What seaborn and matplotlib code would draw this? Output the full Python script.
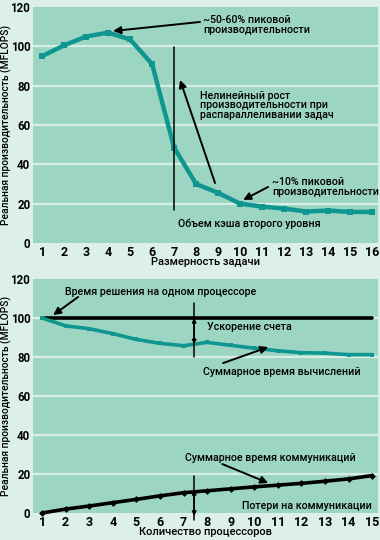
import matplotlib
matplotlib.use("Agg")
import matplotlib.pyplot as plt
import seaborn as sns
import pandas as pd

# data
task_size = list(range(1, 17))
perf_by_size = [95, 100.5, 105, 107, 103.5, 91, 48.5, 30, 25.5, 20, 18.5, 17.5, 16, 16.5, 15.8, 15.8]

n_procs = list(range(1, 16))
single_proc = [100] * 15
compute_time = [100, 96, 94.5, 92, 89, 87, 85.8, 87.5, 86, 84.5, 83.2, 82.2, 82, 81.2, 81.2]
comm_time = [0, 2, 3.6, 5.3, 7, 8.8, 10.4, 11.4, 12.4, 13.4, 14.3, 15.2, 16.3, 17.5, 19.2]

y_ticks = [0, 20, 40, 60, 80, 100, 120]

FIG_BG = "#dcf0e7"
AX_BG = "#9dd5c3"
GRID = "#d6eee4"
TEAL = "#0f9690"

sns.set_theme(style="white")
plt.rcParams["font.family"] = ["Roboto", "DejaVu Sans"]
plt.rcParams["font.size"] = 8
for key in ("text.color", "axes.labelcolor", "xtick.color", "ytick.color"):
    plt.rcParams[key] = "black"

fig = plt.figure(figsize=(3.8, 5.4), dpi=100, facecolor=FIG_BG)
ax1 = fig.add_axes([0.087, 0.55, 0.908, 0.437])
ax2 = fig.add_axes([0.087, 0.05, 0.908, 0.4333])


def style_axis(ax, xticks, xlim, xlabel):
    ax.set_facecolor(AX_BG)
    for s in ax.spines.values():
        s.set_visible(False)
    ax.set_ylim(0, 120)
    ax.set_xlim(*xlim)
    ax.set_yticks(y_ticks)
    ax.set_xticks(xticks)
    ax.set_yticklabels([str(t) for t in y_ticks], fontsize=8.3, fontweight="bold")
    ax.set_xticklabels([str(t) for t in xticks], fontsize=9, fontweight="bold")
    ax.tick_params(length=0, pad=2)
    for t in y_ticks[1:-1]:
        ax.axhline(t, color=GRID, lw=1.6, zorder=0.5)
    ax.set_xlabel(xlabel, fontsize=8, fontweight="medium", labelpad=-1)
    ax.set_ylabel("Реальная производительность (MFLOPS)", fontsize=7.4,
                  fontweight="medium")
    ax.yaxis.set_label_coords(-0.062, 0.5)


def note(ax, text, xy, xytext=None, ha="left"):
    if xytext is None:
        ax.text(xy[0], xy[1], text, fontsize=7.7, fontweight="medium",
                ha=ha, va="center", linespacing=0.95)
    else:
        ax.annotate("", xy=xy, xytext=xytext,
                    arrowprops=dict(arrowstyle="-|>", color="black", lw=1.4,
                                    mutation_scale=11, shrinkA=0, shrinkB=0))


# ---- top panel ----
top = pd.DataFrame({"size": task_size, "perf": perf_by_size})
sns.lineplot(data=top, x="size", y="perf", ax=ax1, color=TEAL, lw=3.2,
             marker="s", markersize=4, markeredgewidth=0, zorder=3)
style_axis(ax1, task_size, (0.59, 16.27), "Размерность задачи")
ax1.plot([7, 7], [99.6, 16.8], color="black", lw=1.1, zorder=4)

note(ax1, "~50-60% пиковой\nпроизводительности", (8.32, 111))
note(ax1, None, (4.23, 107.8), (8.18, 112.4))
note(ax1, "Нелинейный рост\nпроизводительности при\nраспараллеливании задач", (8.18, 70))
note(ax1, None, (7.27, 82.9), (8.86, 30.5))
note(ax1, "~10% пиковой\nпроизводительности", (11.45, 28.5))
note(ax1, None, (10.14, 21.9), (11.27, 28.5))
note(ax1, "Объем кэша второго уровня", (7.18, 9.7))

# ---- bottom panel ----
bottom = pd.DataFrame({"n": n_procs, "single": single_proc,
                       "compute": compute_time, "comm": comm_time})
sns.lineplot(data=bottom, x="n", y="single", ax=ax2, color="black", lw=2.6, zorder=3)
sns.lineplot(data=bottom, x="n", y="compute", ax=ax2, color=TEAL, lw=2.6,
             marker="s", markersize=3.5, markeredgewidth=0, zorder=3)
sns.lineplot(data=bottom, x="n", y="comm", ax=ax2, color="black", lw=2.6,
             marker="D", markersize=3.5, markeredgewidth=0, zorder=3, clip_on=False)
style_axis(ax2, n_procs, (0.618, 15.25), "Количество процессоров")

# speedup / communication loss markers
xm = 7.45
ax2.plot([xm, xm], [107.7, 80], color="black", lw=1.1, zorder=4)
ax2.annotate("", xy=(xm, 100), xytext=(xm, 86.5),
             arrowprops=dict(arrowstyle="<|-|>", color="black", lw=1.1,
                             mutation_scale=6, shrinkA=0, shrinkB=0))
ax2.plot([xm, xm], [19, -3.8], color="black", lw=1.1, zorder=4, clip_on=False)
ax2.annotate("", xy=(xm, 11.8), xytext=(xm, -1.5),
             arrowprops=dict(arrowstyle="<|-|>", color="black", lw=1.1,
                             mutation_scale=6, shrinkA=0, shrinkB=0),
             annotation_clip=False)

note(ax2, "Время решения на одном процессоре", (1.98, 113.3))
note(ax2, None, (1.47, 101.5), (2.53, 110.8))
note(ax2, "Ускорение счета", (8.0, 95.4))
note(ax2, "Суммарное время вычислений", (7.83, 72.3))
note(ax2, None, (10.59, 85.1), (8.68, 76.9))
note(ax2, "Суммарное время коммуникаций", (7.07, 28.2))
note(ax2, None, (10.59, 15.4), (8.64, 25.1))
note(ax2, "Потери на коммуникации", (9.49, 3.6))

fig.savefig("out.png", dpi=100, facecolor=FIG_BG)
